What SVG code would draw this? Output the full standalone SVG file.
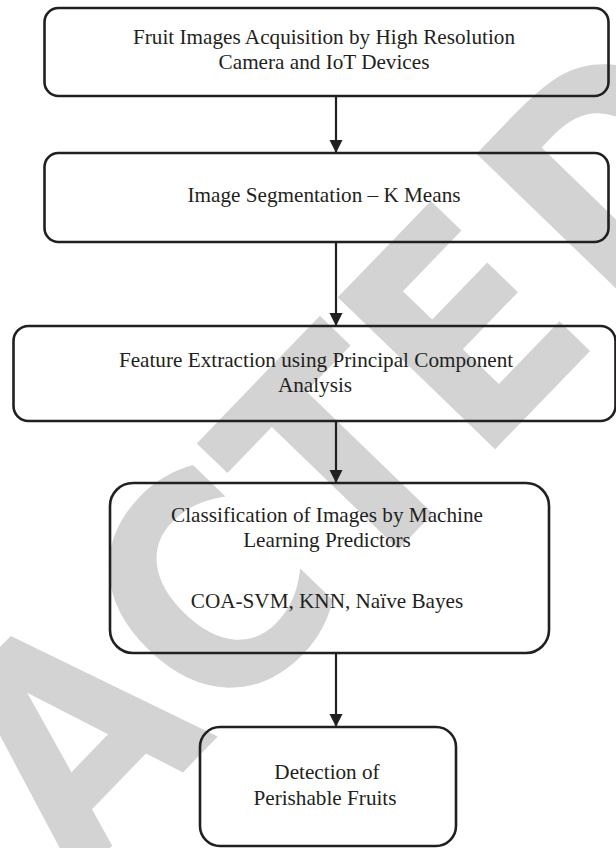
<svg xmlns="http://www.w3.org/2000/svg" width="616" height="848" viewBox="0 0 616 848">
<defs>
<style>
.box{fill:none;stroke:#231f20;stroke-width:2.6}
.lbl{font-family:"Liberation Serif","Times New Roman",serif;font-size:21.2px;fill:#231f20;text-anchor:middle}
.wire{stroke:#231f20;stroke-width:2.2;fill:none}
.wm{font-family:"DejaVu Sans",sans-serif;font-weight:bold;font-size:300px;fill:#d3d3d3}
</style>
<marker id="arr" markerWidth="13" markerHeight="14" refX="13" refY="6.5" orient="auto" markerUnits="userSpaceOnUse">
<path d="M0,0 L13,6.5 L0,13 Z" fill="#231f20"/>
</marker>
</defs>
<rect width="616" height="848" fill="#ffffff"/>
<g id="watermark">
<text class="wm" transform="translate(477,468) rotate(-46) scale(0.88,1)" x="478" y="0" text-anchor="end">RETRACTE<tspan dx="22">D</tspan></text>
</g>
<g id="connectors">
<line class="wire" x1="336" y1="96" x2="336" y2="153" marker-end="url(#arr)"/>
<line class="wire" x1="336" y1="242" x2="336" y2="326" marker-end="url(#arr)"/>
<line class="wire" x1="336" y1="422" x2="336" y2="483" marker-end="url(#arr)"/>
<line class="wire" x1="336" y1="653" x2="336" y2="727" marker-end="url(#arr)"/>
</g>
<g id="node1">
<rect class="box" x="44.5" y="8" width="564" height="88" rx="14"/>
<text class="lbl" x="324" y="44">Fruit Images Acquisition by High Resolution</text>
<text class="lbl" x="324" y="69">Camera and IoT Devices</text>
</g>
<g id="node2">
<rect class="box" x="44.5" y="153" width="564" height="89" rx="14"/>
<text class="lbl" x="324" y="202">Image Segmentation – K Means</text>
</g>
<g id="node3">
<rect class="box" x="13.5" y="326" width="602" height="95" rx="15"/>
<text class="lbl" x="316" y="367">Feature Extraction using Principal Component</text>
<text class="lbl" x="315" y="392">Analysis</text>
</g>
<g id="node4">
<rect class="box" x="110" y="483" width="439" height="170" rx="23"/>
<text class="lbl" x="327" y="522">Classification of Images by Machine</text>
<text class="lbl" x="327" y="547">Learning Predictors</text>
<text class="lbl" x="327" y="608">COA-SVM, KNN, Naïve Bayes</text>
</g>
<g id="node5">
<rect class="box" x="200" y="727" width="256" height="119" rx="20"/>
<text class="lbl" x="327" y="779">Detection of</text>
<text class="lbl" x="325" y="805">Perishable Fruits</text>
</g>
</svg>
